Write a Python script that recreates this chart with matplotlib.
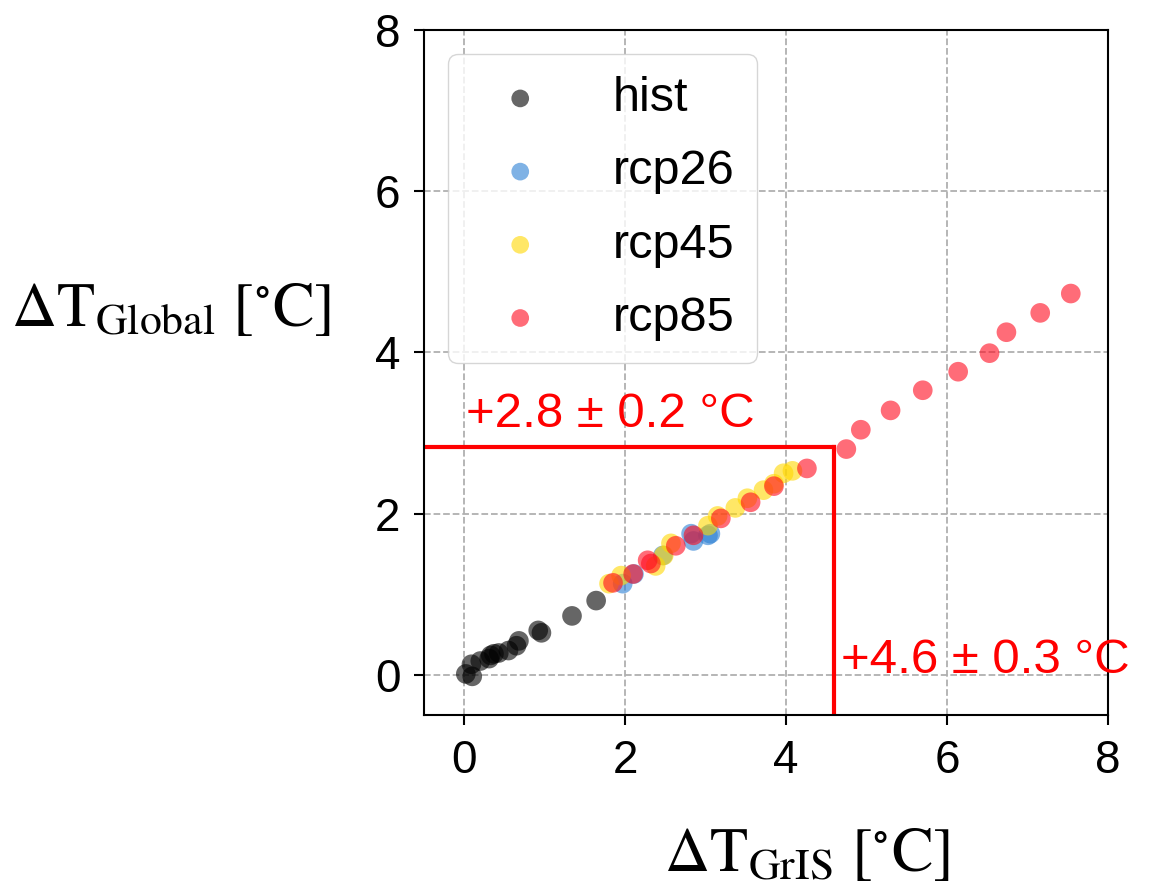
import matplotlib
matplotlib.use("Agg")
import matplotlib.pyplot as plt

plt.rcParams['font.family'] = ['Liberation Sans', 'DejaVu Sans']
plt.rcParams['mathtext.fontset'] = 'stix'

# warming of the GrIS region vs global warming, per scenario
hist_x = [0.02, 0.10, 0.09, 0.20, 0.31, 0.33, 0.37, 0.43, 0.55, 0.65, 0.68, 0.92, 0.96, 1.34, 1.64]
hist_y = [0.01, -0.02, 0.13, 0.17, 0.20, 0.24, 0.26, 0.27, 0.30, 0.36, 0.42, 0.55, 0.52, 0.73, 0.92]

rcp26_x = [1.97, 2.11, 2.47, 2.82, 2.85, 3.03, 3.06]
rcp26_y = [1.13, 1.25, 1.48, 1.75, 1.66, 1.73, 1.75]

rcp45_x = [1.80, 1.95, 2.38, 2.48, 2.57, 3.03, 3.15, 3.37, 3.52, 3.72, 3.85, 3.97, 4.08]
rcp45_y = [1.13, 1.23, 1.35, 1.48, 1.63, 1.85, 1.97, 2.07, 2.19, 2.29, 2.37, 2.50, 2.53]

rcp85_x = [1.85, 2.10, 2.28, 2.32, 2.63, 2.85, 3.19, 3.56, 3.85, 4.26,
           4.75, 4.93, 5.30, 5.70, 6.14, 6.53, 6.74, 7.16, 7.54]
rcp85_y = [1.14, 1.25, 1.42, 1.38, 1.60, 1.73, 1.94, 2.14, 2.34, 2.56,
           2.80, 3.04, 3.28, 3.53, 3.76, 3.99, 4.25, 4.49, 4.73]

threshold_gris = 4.6
threshold_global = 2.83
label_gris = '+4.6 ± 0.3 °C'
label_global = '+2.8 ± 0.2 °C'

fig = plt.figure(figsize=(11.6, 8.93), dpi=100)
ax = fig.add_axes([0.3655, 0.1993, 0.5895, 0.7671])

ax.scatter(hist_x, hist_y, s=200, color='black', alpha=0.6, edgecolors='none', label='hist', zorder=3)
ax.scatter(rcp26_x, rcp26_y, s=200, color='#2a7fd4', alpha=0.6, edgecolors='none', label='rcp26', zorder=3)
ax.scatter(rcp45_x, rcp45_y, s=200, color='#ffd700', alpha=0.6, edgecolors='none', label='rcp45', zorder=3)
ax.scatter(rcp85_x, rcp85_y, s=200, color='#ff0a1e', alpha=0.6, edgecolors='none', label='rcp85', zorder=3)

# threshold lines
ax.plot([-0.5, threshold_gris], [threshold_global, threshold_global], color='red', lw=3, zorder=2)
ax.plot([threshold_gris, threshold_gris], [-0.5, threshold_global], color='red', lw=3, zorder=2)
ax.text(0.02, 3.07, label_global, color='red', fontsize=35.5, va='baseline', ha='left')
ax.text(threshold_gris + 0.08, 0.02, label_gris, color='red', fontsize=35.5, va='baseline', ha='left',
        clip_on=False)

ax.set_xlim(-0.5, 8)
ax.set_ylim(-0.5, 8)
ax.set_xticks([0, 2, 4, 6, 8])
ax.set_yticks([0, 2, 4, 6, 8])
ax.tick_params(labelsize=33, width=1.5, length=7, pad=10)
for sp in ax.spines.values():
    sp.set_linewidth(1.5)
ax.grid(True, linestyle='--', color='#b0b0b0', lw=1.3, zorder=0)
ax.set_axisbelow(True)

ax.set_xlabel(r'$\Delta\mathrm{T}_{\mathrm{GrIS}}\ [^{\circ}\mathrm{C}]$', fontsize=45)
ax.xaxis.set_label_coords(0.56, -0.16)
ax.set_ylabel(r'$\Delta\mathrm{T}_{\mathrm{Global}}\ [^{\circ}\mathrm{C}]$', fontsize=45, rotation=0,
              ha='center', va='center')
ax.yaxis.set_label_coords(-0.37, 0.592)

ax.legend(loc='upper left', fontsize=35, handletextpad=0.88, labelspacing=0.58,
          borderpad=0.45, markerscale=0.9, handlelength=2.06, framealpha=0.8,
          edgecolor='#cccccc', borderaxespad=0.5)

fig.savefig('out.png', dpi=100)
